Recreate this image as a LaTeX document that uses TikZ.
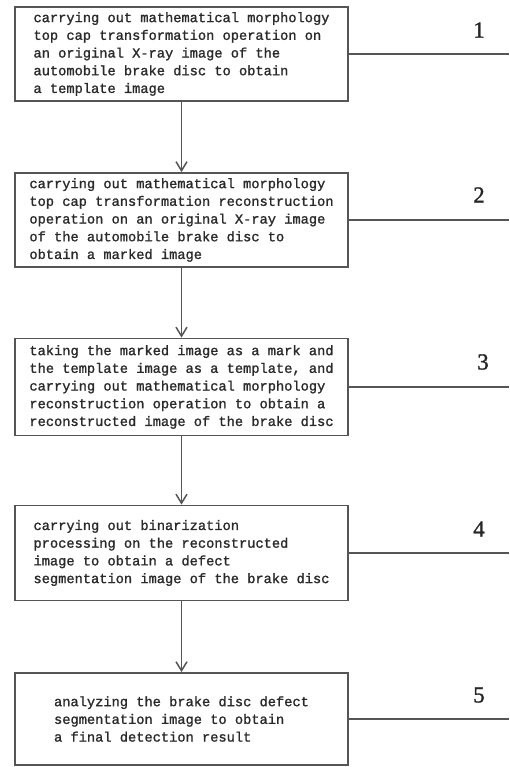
\documentclass[tikz,border=0pt]{standalone}
\usepackage{fontspec}
\setmainfont{Liberation Serif}
\newfontfamily\boxfont[FakeBold=1.3]{Liberation Mono}
\newfontfamily\numfont[FakeBold=1.2]{Liberation Serif}
\usetikzlibrary{arrows.meta}
\definecolor{linec}{HTML}{555555}
\definecolor{textc}{HTML}{2A2A2A}
\tikzset{
  stepbox/.style={draw=linec, line width=1.8pt, fill=white, inner sep=0pt,
    minimum width=333pt, align=left, text=textc,
    font=\boxfont\fontsize{13.7pt}{17.7pt}\selectfont},
  flow/.style={draw=linec, line width=1.8pt, -{Straight Barb[length=9pt,width=11pt,line width=1.5pt]}},
  lead/.style={draw=linec, line width=1.8pt},
  numlabel/.style={font=\numfont\fontsize{23pt}{24pt}\selectfont, text=black!85, inner sep=0pt}
}
\begin{document}
\begin{tikzpicture}[x=1pt,y=1pt]
\useasboundingbox[fill=white] (0,0) rectangle (509,767);
\node[stepbox, minimum height=94pt] (b1) at (181.5,713) {carrying out mathematical morphology\\top cap transformation operation on\\an original X-ray image of the\\automobile brake disc to obtain\\a template image};
\node[stepbox, minimum height=94pt] (b2) at (181.5,547) {carrying out mathematical morphology\\top cap transformation reconstruction\\operation on an original X-ray image\\of the automobile brake disc to\\obtain a marked image};
\node[stepbox, minimum height=97pt] (b3) at (181.5,380) {taking the marked image as a mark and\\the template image as a template, and\\carrying out mathematical morphology\\reconstruction operation to obtain a\\reconstructed image of the brake disc};
\node[stepbox, minimum height=95pt] (b4) at (181.5,214) {carrying out binarization\\processing on the reconstructed\\image to obtain a defect\\segmentation image of the brake disc};
\node[stepbox, minimum height=92pt] (b5) at (181.5,48) {analyzing the brake disc defect\\segmentation image to obtain\\a final detection result};
\draw[flow] (b1) -- (b2);
\draw[flow] (b2) -- (b3);
\draw[flow] (b3) -- (b4);
\draw[flow] (b4) -- (b5);
\coordinate (e1) at (509,713);
\coordinate (e2) at (509,547);
\coordinate (e3) at (509,380);
\coordinate (e4) at (509,214);
\coordinate (e5) at (509,48);
\draw[lead] (b1.east) -- (e1);
\draw[lead] (b2.east) -- (e2);
\draw[lead] (b3.east) -- (e3);
\draw[lead] (b4.east) -- (e4);
\draw[lead] (b5.east) -- (e5);
\node[numlabel] (n1) at (479,737) {1};
\node[numlabel] (n2) at (479,572) {2};
\node[numlabel] (n3) at (483,405) {3};
\node[numlabel] (n4) at (479,238) {4};
\node[numlabel] (n5) at (479,72) {5};
\end{tikzpicture}
\end{document}
